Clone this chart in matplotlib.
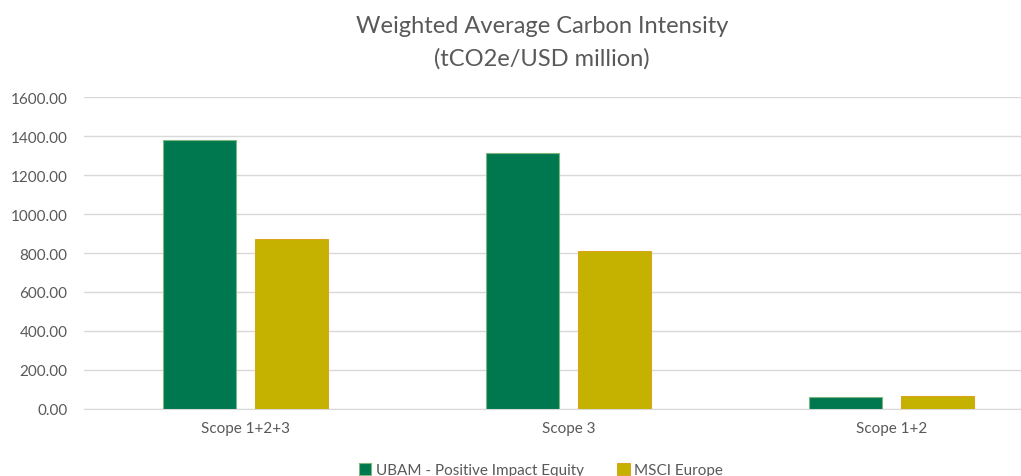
import matplotlib
matplotlib.use("Agg")
import matplotlib.pyplot as plt
import numpy as np

# data
categories = ["Scope 1+2+3", "Scope 3", "Scope 1+2"]
series_names = ["UBAM - Positive Impact Equity", "MSCI Europe"]
ubam = [1379, 1313, 62]
msci = [872, 810, 67]
yticks = [0, 200, 400, 600, 800, 1000, 1200, 1400, 1600]

plt.rcParams['font.family'] = ['Lato', 'DejaVu Sans']
grey = '#595959'

fig = plt.figure(figsize=(10.21, 4.77), dpi=100)
ax = fig.add_axes([0.0823, 0.1405, 0.949, 0.654])

x = np.arange(len(categories))
w = 0.226
off = 0.142
ax.bar(x - off, ubam, w, color='#00784F', edgecolor='#7FB77E', linewidth=0.8,
       label=series_names[0], zorder=3)
ax.bar(x + off, msci, w, color='#C5B200', edgecolor='#D9A520', linewidth=0.8,
       label=series_names[1], zorder=3)

ax.set_xlim(-0.5, len(categories) - 0.5)
ax.set_ylim(0, 1600)
ax.set_yticks(yticks)
ax.set_yticklabels([f"{v:.2f}" for v in yticks])
ax.set_xticks(x)
ax.set_xticklabels(categories)
ax.tick_params(axis='y', length=0, pad=12, labelsize=11, colors=grey)
ax.tick_params(axis='x', length=0, pad=9, labelsize=11, colors=grey)
ax.grid(axis='y', color='#D9D9D9', linewidth=1, zorder=0)
for s in ['top', 'right', 'left']:
    ax.spines[s].set_visible(False)
ax.spines['bottom'].set_color('#D9D9D9')

fig.text(0.531, 0.945, "Weighted Average Carbon Intensity", ha='center', va='center',
         fontsize=17, color=grey)
fig.text(0.531, 0.877, "(tCO2e/USD million)", ha='center', va='center',
         fontsize=17, color=grey)

fig.legend(loc='center', bbox_to_anchor=(0.53, 0.012), ncol=2, frameon=False,
           fontsize=11, labelcolor=grey, handlelength=0.8, handleheight=0.8,
           handletextpad=0.3, columnspacing=2.2)

fig.savefig("out.png", dpi=100)
